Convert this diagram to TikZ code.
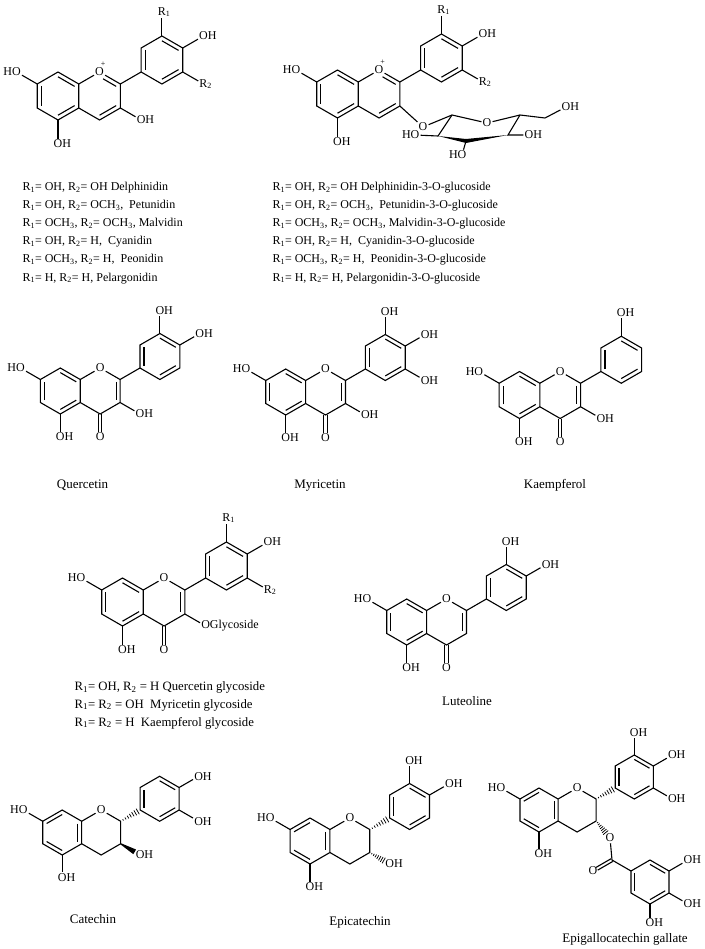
\documentclass[tikz,border=0pt]{standalone}
\usepackage{fontspec}
\setmainfont{Liberation Serif}
\usetikzlibrary{calc}
\newcommand\atomfont{\fontsize{12}{12}\selectfont}
\newcommand\listfont{\fontsize{12}{13}\selectfont}
\newcommand\namefont{\fontsize{13}{15}\selectfont}
\newcommand\glyfont{\fontsize{12.75}{15}\selectfont}
\newcommand\Rs[1]{R\textsubscript{#1}}
\newcommand\och{OCH\textsubscript{3}}
\newcommand\Rlab[1]{R\rlap{\textsubscript{#1}}}
\newcommand\OHr{O\rlap{H}}
\newcommand\HOl{\llap{H}O}
\tikzset{
  atom/.style={inner sep=0.7pt, font=\atomfont},
  listtxt/.style={anchor=base west, inner sep=0pt, font=\listfont},
  nametxt/.style={anchor=base, inner sep=0pt, font=\namefont},
  glytxt/.style={anchor=base west, inner sep=0pt, font=\glyfont},
}
\newcommand\innerbond[3]{\draw ($(#1)!0.2!(#3)$) -- ($(#2)!0.2!(#3)$);}
\newcommand\skel[1]{%
  \coordinate (#1ac) at (0,0);
  \coordinate (#1c8) at (0,1);
  \coordinate (#1c8a) at (0.866,0.5);
  \coordinate (#1c4a) at (0.866,-0.5);
  \coordinate (#1c5) at (0,-1);
  \coordinate (#1c6) at (-0.866,-0.5);
  \coordinate (#1c7) at (-0.866,0.5);
  \coordinate (#1cc) at (1.732,0);
  \node[atom] (#1o1) at (1.732,1) {O};
  \coordinate (#1c2) at (2.598,0.5);
  \coordinate (#1c3) at (2.598,-0.5);
  \coordinate (#1c4) at (1.732,-1);
  \coordinate (#1b1) at (3.464,1);
  \coordinate (#1b2) at (3.464,2);
  \coordinate (#1b3) at (4.330,2.5);
  \coordinate (#1b4) at (5.196,2);
  \coordinate (#1b5) at (5.196,1);
  \coordinate (#1b6) at (4.330,0.5);
  \coordinate (#1bc) at (4.330,1.5);
  \node[atom] (#1ho7) at (-1.732,1) {\HOl};
  \node[atom] (#1oh5) at (0,-2) {\OHr};
  \draw (#1c7)--(#1ho7);
  \draw (#1c5)--(#1oh5);
  \draw (#1c7)--(#1c8)--(#1c8a)--(#1c4a)--(#1c5)--(#1c6)--cycle;
  \draw (#1c8a)--(#1o1)--(#1c2)--(#1c3)--(#1c4)--(#1c4a);
  \draw (#1b1)--(#1b2)--(#1b3)--(#1b4)--(#1b5)--(#1b6)--cycle;
  \innerbond{#1b1}{#1b2}{#1bc}\innerbond{#1b3}{#1b4}{#1bc}\innerbond{#1b5}{#1b6}{#1bc}
}
\newcommand\kekA[1]{\innerbond{#1c6}{#1c7}{#1ac}\innerbond{#1c8}{#1c8a}{#1ac}\innerbond{#1c4a}{#1c5}{#1ac}}
\newcommand\kekAb[1]{\innerbond{#1c7}{#1c8}{#1ac}\innerbond{#1c8a}{#1c4a}{#1ac}\innerbond{#1c5}{#1c6}{#1ac}}
\newcommand\flavylium[1]{%
  \draw[shorten <=4pt] ($(#1o1)!0.2!(#1cc)$) -- ($(#1c2)!0.2!(#1cc)$);
  \innerbond{#1c3}{#1c4}{#1cc}
  \node[inner sep=0pt,font=\fontsize{8}{8}\selectfont] at ([xshift=3.5pt,yshift=8.2pt]#1o1) {+};
  \draw (#1c2)--(#1b1);}
\newcommand\flavone[1]{%
  \innerbond{#1c2}{#1c3}{#1cc}
  \node[atom] (#1o4) at (1.732,-2) {O};
  \draw ([xshift=-1.6pt]#1c4) -- ([xshift=-1.6pt]#1o4.north);
  \draw ([xshift=1.6pt]#1c4) -- ([xshift=1.6pt]#1o4.north);
  \draw (#1c2)--(#1b1);}
\newcommand\Btop[2]{\node[atom] (#1bt) at (4.330,3.5) {#2}; \draw (#1b3)--(#1bt);}
\newcommand\Bur[2]{\node[atom] (#1bu) at (6.062,2.5) {#2}; \draw (#1b4)--(#1bu);}
\newcommand\Blr[2]{\node[atom] (#1bl) at (6.062,0.5) {#2}; \draw (#1b5)--(#1bl);}
\newcommand\Sthree[2]{\node[atom] (#1s3) at (3.464,-1) {#2}; \draw (#1c3)--(#1s3);}
\newcommand\hashbond[2]{%
  \foreach \i in {1,...,7}{%
    \pgfmathsetmacro\hw{0.3+\i*0.42}%
    \draw[line width=0.75pt] ($(#1)!\i/8!(#2)!\hw pt!90:(#2)$) -- ($(#1)!\i/8!(#2)!\hw pt!-90:(#2)$);}}
\newcommand\boldwedge[2]{\fill ($(#1)!0.6pt!90:(#2)$) -- ($(#2)!2.7pt!-90:(#1)$) -- ($(#2)!2.7pt!90:(#1)$) -- ($(#1)!0.6pt!-90:(#2)$) -- cycle;}
\begin{document}
\begin{tikzpicture}[x=1pt,y=-1pt,line width=1.1pt]
\useasboundingbox (0,0) rectangle (704,949);
\fill[white] (0,0) rectangle (704,949);

% 1 anthocyanidin
\begin{scope}[shift={(58,96)},x=24pt,y=24pt]
  \skel{an}\kekA{an}\flavylium{an}
  \Sthree{an}{\OHr}
  \Btop{an}{\Rlab1}\Bur{an}{\OHr}\Blr{an}{\Rlab2}
\end{scope}

% 2 anthocyanin glucoside
\begin{scope}[shift={(337.5,94)},x=24pt,y=24pt]
  \skel{gl}\kekA{gl}\flavylium{gl}
  \Btop{gl}{\Rlab1}\Bur{gl}{\OHr}\Blr{gl}{\Rlab2}
\end{scope}
\node[atom] (sgo) at (423,127) {O};
\coordinate (sgc1) at (452,115);
\node[atom] (sgo5) at (487,123) {O};
\coordinate (sgc5) at (520,115);
\coordinate (sgc6) at (545,118);
\node[atom] (sgoh6) at (566,107) {\OHr};
\coordinate (sgc4) at (508,135);
\node[atom] (sgoh4) at (529,135) {\OHr};
\coordinate (sgc3) at (466,141);
\node[atom] (sgho3) at (462,155) {\HOl};
\coordinate (sgc2) at (438,136);
\node[atom] (sgho2) at (415,135) {\HOl};
\draw (glc3)--(sgo)--(sgc1)--(sgo5)--(sgc5)--(sgc6)--(sgoh6);
\draw (sgc5)--(sgc4)--(sgoh4);
\draw (sgho2)--(sgc2)--(sgc1);
\draw (sgc3)--(sgho3);
\fill (sgc2) -- ([yshift=2pt]sgc3) -- (sgc4) -- ([yshift=-2pt]sgc3) -- cycle;

% lists
\node[listtxt] at (22,191) {\Rs1= OH, \Rs2= OH Delphinidin};
\node[listtxt] at (22,209) {\Rs1= OH, \Rs2= \och,\ \ Petunidin};
\node[listtxt] at (22,227) {\Rs1= \och, \Rs2= \och, Malvidin};
\node[listtxt] at (22,245) {\Rs1= OH, \Rs2= H,\ \ Cyanidin};
\node[listtxt] at (22,263) {\Rs1= \och, \Rs2= H,\ \ Peonidin};
\node[listtxt] at (22,281) {\Rs1= H, \Rs2= H, Pelargonidin};
\node[listtxt] at (272,191) {\Rs1= OH, \Rs2= OH Delphinidin-3-O-glucoside};
\node[listtxt] at (272,209) {\Rs1= OH, \Rs2= \och,\ \ Petunidin-3-O-glucoside};
\node[listtxt] at (272,227) {\Rs1= \och, \Rs2= \och, Malvidin-3-O-glucoside};
\node[listtxt] at (272,245) {\Rs1= OH, \Rs2= H,\ \ Cyanidin-3-O-glucoside};
\node[listtxt] at (272,263) {\Rs1= \och, \Rs2= H,\ \ Peonidin-3-O-glucoside};
\node[listtxt] at (272,281) {\Rs1= H, \Rs2= H, Pelargonidin-3-O-glucoside};

% quercetin
\begin{scope}[shift={(60.3,391)},x=23pt,y=23pt]
  \skel{qu}\kekA{qu}\flavone{qu}\Sthree{qu}{\OHr}
  \Btop{qu}{\OHr}\Bur{qu}{\OHr}
\end{scope}
\node[nametxt] at (82.5,488) {Quercetin};

% myricetin
\begin{scope}[shift={(285.7,392)},x=23pt,y=23pt]
  \skel{my}\kekA{my}\flavone{my}\Sthree{my}{\OHr}
  \Btop{my}{\OHr}\Bur{my}{\OHr}\Blr{my}{\OHr}
\end{scope}
\node[nametxt] at (320,488) {Myricetin};

% kaempferol
\begin{scope}[shift={(519.5,395)},x=23.5pt,y=23.5pt]
  \skel{ka}\kekA{ka}\flavone{ka}\Sthree{ka}{\OHr}
  \Btop{ka}{\OHr}
\end{scope}
\node[nametxt] at (555,488) {Kaempferol};

% flavonol glycoside
\begin{scope}[shift={(122.5,602)},x=24pt,y=24pt]
  \skel{fg}\kekA{fg}\flavone{fg}\Sthree{fg}{O\rlap{Glycoside}}
  \Btop{fg}{\Rlab1}\Bur{fg}{\OHr}\Blr{fg}{\Rlab2}
\end{scope}
\node[glytxt] at (74,690.5) {\Rs1= OH, \Rs2 = H Quercetin glycoside};
\node[glytxt] at (74,708) {\Rs1= \Rs2 = OH\ \ Myricetin glycoside};
\node[glytxt] at (74,726) {\Rs1= \Rs2 = H\ \ Kaempferol glycoside};

% luteoline
\begin{scope}[shift={(406.7,622)},x=23pt,y=23pt]
  \skel{lu}\kekA{lu}\flavone{lu}
  \Btop{lu}{\OHr}\Bur{lu}{\OHr}
\end{scope}
\node[nametxt] at (467,705) {Luteoline};

% catechin
\begin{scope}[shift={(62.2,832.5)},x=22.5pt,y=22.5pt]
  \skel{ca}\kekAb{ca}
  \node[atom] (caoh3) at (3.464,-1) {\OHr};
  \Bur{ca}{\OHr}\Blr{ca}{\OHr}
\end{scope}
\hashbond{cac2}{cab1}
\coordinate (cawe) at ($(cac3)!0.72!(caoh3)$);
\boldwedge{cac3}{cawe}
\node[nametxt] at (93,923) {Catechin};

% epicatechin
\begin{scope}[shift={(310,841)},x=23pt,y=23pt]
  \skel{ep}\kekAb{ep}
  \node[atom] (epoh3) at (3.464,-1) {\OHr};
  \Btop{ep}{\OHr}\Bur{ep}{\OHr}
\end{scope}
\hashbond{epc2}{epb1}
\coordinate (epwe) at ($(epc3)!0.8!(epoh3)$);
\hashbond{epc3}{epwe}
\node[nametxt] at (360,925) {Epicatechin};

% EGCG
\begin{scope}[shift={(539,810)},x=22pt,y=22pt]
  \skel{eg}\kekAb{eg}
  \Btop{eg}{\OHr}\Bur{eg}{\OHr}\Blr{eg}{\OHr}
\end{scope}
\hashbond{egc2}{egb1}
\node[atom] (ego) at (610,838) {O};
\coordinate (egwe) at ($(egc3)!0.78!(ego)$);
\hashbond{egc3}{egwe}
\coordinate (egcc) at (612,860);
\node[atom] (egco) at (593,871) {O};
\coordinate (gg1) at (631,871);
\coordinate (gg2) at (650,860);
\coordinate (gg3) at (669,871);
\coordinate (gg4) at (669,893);
\coordinate (gg5) at (650,904);
\coordinate (gg6) at (631,893);
\coordinate (ggc) at (650,882);
\node[atom] (ggoh3) at (688,860) {\OHr};
\node[atom] (ggoh4) at (688,904) {\OHr};
\node[atom] (ggoh5) at (650,923) {\OHr};
\draw (ego)--(egcc)--(gg1);
\draw[shorten >=4.5pt] ($(egcc)!1.6pt!90:(egco)$) -- ($(egco)!1.6pt!-90:(egcc)$);
\draw[shorten >=4.5pt] ($(egcc)!1.6pt!-90:(egco)$) -- ($(egco)!1.6pt!90:(egcc)$);
\draw (gg1)--(gg2)--(gg3)--(gg4)--(gg5)--(gg6)--cycle;
\innerbond{gg6}{gg1}{ggc}\innerbond{gg2}{gg3}{ggc}\innerbond{gg4}{gg5}{ggc}
\draw (gg3)--(ggoh3); \draw (gg4)--(ggoh4); \draw (gg5)--(ggoh5);
\node[nametxt] at (625,942) {Epigallocatechin gallate};
\end{tikzpicture}
\end{document}
